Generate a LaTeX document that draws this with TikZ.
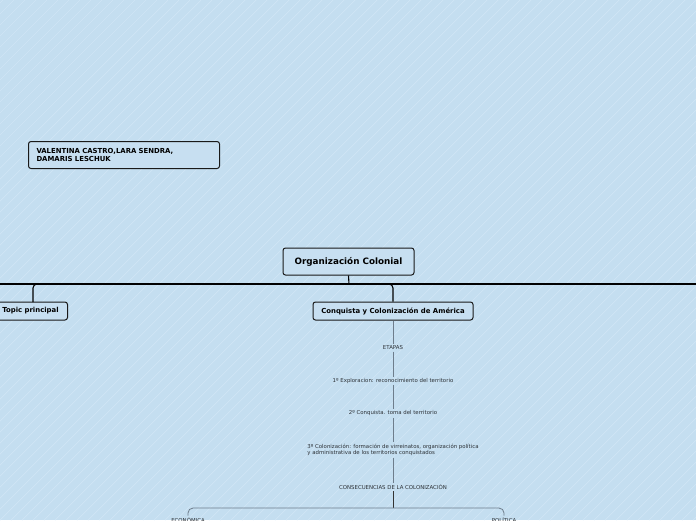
\documentclass[tikz,border=0pt]{standalone}
\usepackage{fontspec}
\setmainfont{DejaVu Sans}
\definecolor{bgblue}{RGB}{196,222,240}
\definecolor{stripe}{RGB}{208,229,245}
\definecolor{boxfill}{RGB}{199,223,241}
\definecolor{graytext}{RGB}{45,50,55}
\definecolor{grayline}{RGB}{110,125,140}
\tikzset{
  topicbox/.style={draw=black!90, line width=1pt, rounded corners=2.5pt, fill=boxfill, inner sep=0pt, font=\bfseries},
  subtext/.style={text=graytext, inner sep=1.5pt, font=\fontsize{5.4}{6.6}\selectfont},
  mainline/.style={draw=black, line width=1.1pt},
  subline/.style={draw=grayline, line width=0.8pt},
}
\begin{document}
\begin{tikzpicture}[x=1pt,y=-1pt]
\useasboundingbox (0,0) rectangle (696,520);
\clip (0,0) rectangle (696,520);
\fill[bgblue] (0,0) rectangle (696,520);
\foreach \i in {-528,-517,...,700} {
  \draw[stripe, line width=0.7pt] (\i,520) -- (\i+520,0);
}
% author box
\node[topicbox, minimum width=191pt, minimum height=27pt, align=left, text width=175pt, anchor=north west,
  font=\bfseries\fontsize{6.9}{8}\selectfont] (auth) at (28,141)
  {VALENTINA CASTRO,LARA SENDRA,\\DAMARIS LESCHUK};
% central topic
\node[topicbox, minimum width=131pt, minimum height=27pt, font=\bfseries\fontsize{8.8}{10}\selectfont] (org) at (348.5,261.5) {Organización Colonial};
% main topics
\node[topicbox, minimum width=80pt, minimum height=18pt, font=\bfseries\fontsize{6.9}{8}\selectfont, anchor=east] (topic) at (68,311) {\hspace*{6pt}Topic principal};
\node[topicbox, minimum width=160pt, minimum height=18pt, font=\bfseries\fontsize{6.9}{8}\selectfont] (conq) at (393,311) {Conquista y Colonización de América};
% main connectors
\coordinate (hub) at (349,284);
\coordinate (lend) at (0,284);
\coordinate (rend) at (696,284);
\coordinate (tdrop) at (33,302);
\draw[mainline] (org.south) -- (hub);
\draw[mainline] (lend) -- (rend);
\draw[mainline, rounded corners=4pt] (hub) -| (tdrop);
\draw[mainline, rounded corners=4pt] (hub) -| (conq.north);
% sub-topics
\node[subtext] (etapas) at (393,348) {ETAPAS};
\node[subtext] (e1) at (393,381) {1º Exploracion: reconocimiento del territorio};
\node[subtext] (e2) at (393,413.5) {2º Conquista. toma del territorio};
\node[subtext, align=left] (e3) at (393,450) {3º Colonización: formación de virreinatos, organización política\\y administrativa de los territorios conquistados};
\node[subtext] (cons) at (393,487) {CONSECUENCIAS DE LA COLONIZACIÓN};
\node[subtext, anchor=north] (eco) at (188,515.5) {ECONÓMICA};
\node[subtext, anchor=north] (pol) at (504,515.5) {POLÍTICA};
\draw[subline] (conq.south) -- (etapas.north);
\draw[subline] (etapas.south) -- (e1.north);
\draw[subline] (e1.south) -- (e2.north);
\draw[subline] (e2.south) -- (e3.north);
\draw[subline] (e3.south) -- (cons.north);
\coordinate (chub) at (393,508);
\draw[draw=black!80, line width=0.9pt] (cons.south) -- (chub);
\draw[subline, rounded corners=5pt] (chub) -| (eco.north);
\draw[subline, rounded corners=5pt] (chub) -| (pol.north);
\end{tikzpicture}
\end{document}
